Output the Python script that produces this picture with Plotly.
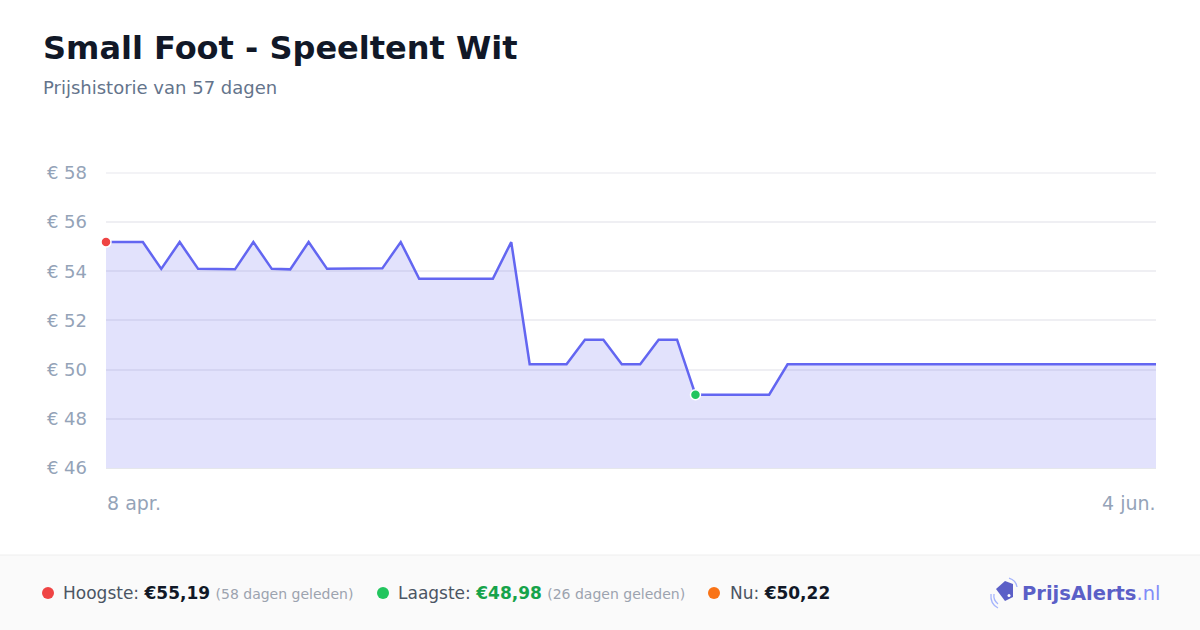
import pandas as pd
import plotly.graph_objects as go

# Data
dates = pd.date_range("2024-04-08", "2024-06-04", freq="D")
prices = [55.19, 55.19, 55.19, 54.10, 55.19, 54.10, 54.10, 54.08, 55.19, 54.10,
          54.08, 55.19, 54.10, 54.10, 54.12, 54.12, 55.19, 53.70, 53.70, 53.70,
          53.70, 53.70, 55.19, 50.22, 50.22, 50.22, 51.22, 51.22, 50.22, 50.22,
          51.22, 51.22, 48.98, 48.98, 48.98, 48.98, 48.98, 50.22, 50.22, 50.22,
          50.22, 50.22, 50.22, 50.22, 50.22, 50.22, 50.22, 50.22, 50.22, 50.22,
          50.22, 50.22, 50.22, 50.22, 50.22, 50.22, 50.22, 50.22]
y_ticks = [46, 48, 50, 52, 54, 56, 58]
y_labels = ["€ 46", "€ 48", "€ 50", "€ 52", "€ 54", "€ 56", "€ 58"]
x_labels = ["8 apr.", "4 jun."]

title = "Small Foot - Speeltent Wit"
subtitle = "Prijshistorie van 57 dagen"
highest = "€55,19"
highest_ago = "(58 dagen geleden)"
lowest = "€48,98"
lowest_ago = "(26 dagen geleden)"
now = "€50,22"

W, H = 1200, 630
L, R, T, B = 106, 44, 172, 162
PW, PH = W - L - R, H - T - B

def px(x):
    return (x - L) / PW

def py(y):
    return (H - B - y) / PH

i_max = prices.index(max(prices))
i_min = prices.index(min(prices))

fig = go.Figure()
fig.add_trace(go.Scatter(x=dates, y=prices, mode="lines",
                         line=dict(color="#6366f1", width=2.5),
                         fill="tozeroy", fillcolor="rgba(99,102,241,0.19)",
                         hoverinfo="skip"))
fig.add_trace(go.Scatter(x=[dates[i_max]], y=[prices[i_max]], mode="markers",
                         marker=dict(color="#ef4444", size=10, line=dict(color="white", width=1.5)),
                         cliponaxis=False))
fig.add_trace(go.Scatter(x=[dates[i_min]], y=[prices[i_min]], mode="markers",
                         marker=dict(color="#22c55e", size=10, line=dict(color="white", width=1.5)),
                         cliponaxis=False))

shapes = [
    # top gridline (at the range edge)
    dict(type="line", xref="paper", yref="y", x0=0, x1=1, y0=y_ticks[-1], y1=y_ticks[-1],
         line=dict(color="#efeff3", width=1.5), layer="below"),
    # footer band
    dict(type="rect", xref="paper", yref="paper", x0=px(0), x1=px(W), y0=py(H), y1=py(555),
         fillcolor="#fafafa", line=dict(width=0), layer="below"),
    dict(type="line", xref="paper", yref="paper", x0=px(0), x1=px(W), y0=py(555), y1=py(555),
         line=dict(color="#eeeeee", width=1)),
]
for cx, col in [(48, "#ef4444"), (383, "#22c55e"), (714, "#f97316")]:
    shapes.append(dict(type="circle", xref="paper", yref="paper",
                       x0=px(cx - 6), x1=px(cx + 6), y0=py(593 + 6), y1=py(593 - 6),
                       fillcolor=col, line=dict(width=0)))

# logo icon: tilted tag and signal arcs
tag = [(996, 589), (1005, 581), (1013, 584), (1013, 597), (1005, 601)]
path = "M " + " L ".join(f"{px(a)},{py(b)}" for a, b in tag) + " Z"
shapes.append(dict(type="path", xref="paper", yref="paper", path=path,
                   fillcolor="#5b5fc7", line=dict(width=0)))
shapes.append(dict(type="circle", xref="paper", yref="paper",
                   x0=px(1007.5), x1=px(1010.5), y0=py(597), y1=py(594),
                   fillcolor="white", line=dict(width=0)))
arc1 = f"M {px(994)},{py(594)} Q {px(993)},{py(600)} {px(998)},{py(604)}"
arc2 = f"M {px(991)},{py(594)} Q {px(990)},{py(604)} {px(998)},{py(608)}"
arc3 = f"M {px(1009)},{py(578)} Q {px(1016)},{py(580)} {px(1017)},{py(587)}"
for a in (arc1, arc2, arc3):
    shapes.append(dict(type="path", xref="paper", yref="paper", path=a,
                       line=dict(color="#a5b4fc", width=1.3)))

font = "DejaVu Sans, Verdana, sans-serif"
annotations = [
    dict(text=f"<b>{title}</b>", x=px(41), y=py(48), xanchor="left", yanchor="middle",
         font=dict(size=32, color="#111827")),
    dict(text=subtitle, x=px(41), y=py(87), xanchor="left", yanchor="middle",
         font=dict(size=18, color="#64748b")),
    dict(text=x_labels[0], x=px(105), y=py(503), xanchor="left", yanchor="middle",
         font=dict(size=19, color="#94a3b8")),
    dict(text=x_labels[1], x=px(1158), y=py(503), xanchor="right", yanchor="middle",
         font=dict(size=19, color="#94a3b8")),
    dict(text=f"Hoogste: <b style='color:#111827'>{highest}</b> "
              f"<span style='font-size:14px;color:#9ca3af'>{highest_ago}</span>",
         x=px(61), y=py(593), xanchor="left", yanchor="middle",
         font=dict(size=17, color="#4b5563")),
    dict(text=f"Laagste: <b><span style='color:#16a34a'>{lowest}</span></b> "
              f"<span style='font-size:14px;color:#9ca3af'>{lowest_ago}</span>",
         x=px(396), y=py(593), xanchor="left", yanchor="middle",
         font=dict(size=17, color="#4b5563")),
    dict(text=f"Nu: <b><span style='color:#111827'>{now}</span></b>",
         x=px(728), y=py(593), xanchor="left", yanchor="middle",
         font=dict(size=17, color="#4b5563")),
    dict(text="<b>PrijsAlerts</b><span style='color:#818cf8'>.nl</span>",
         x=px(1020), y=py(593), xanchor="left", yanchor="middle",
         font=dict(size=19.5, color="#5b5fc7")),
]
for a in annotations:
    a.update(xref="paper", yref="paper", showarrow=False)
    a["font"]["family"] = font

fig.update_layout(
    width=W, height=H,
    margin=dict(l=L, r=R, t=T, b=B),
    paper_bgcolor="white", plot_bgcolor="white",
    showlegend=False,
    font=dict(family=font),
    shapes=shapes,
    annotations=annotations,
    xaxis=dict(range=[dates[0], dates[-1]], showgrid=False, showticklabels=False,
               zeroline=False, showline=True, linecolor="#e5e7eb", linewidth=1),
    yaxis=dict(range=[46, 58.04], tickvals=y_ticks, ticktext=y_labels,
               showgrid=True, gridcolor="#efeff3", gridwidth=1.5, zeroline=False,
               tickfont=dict(size=18, color="#94a3b8"), ticklabelstandoff=18),
)

fig.write_html("out.html", config={"displayModeBar": False},
               post_script="document.body.style.margin='0';")
